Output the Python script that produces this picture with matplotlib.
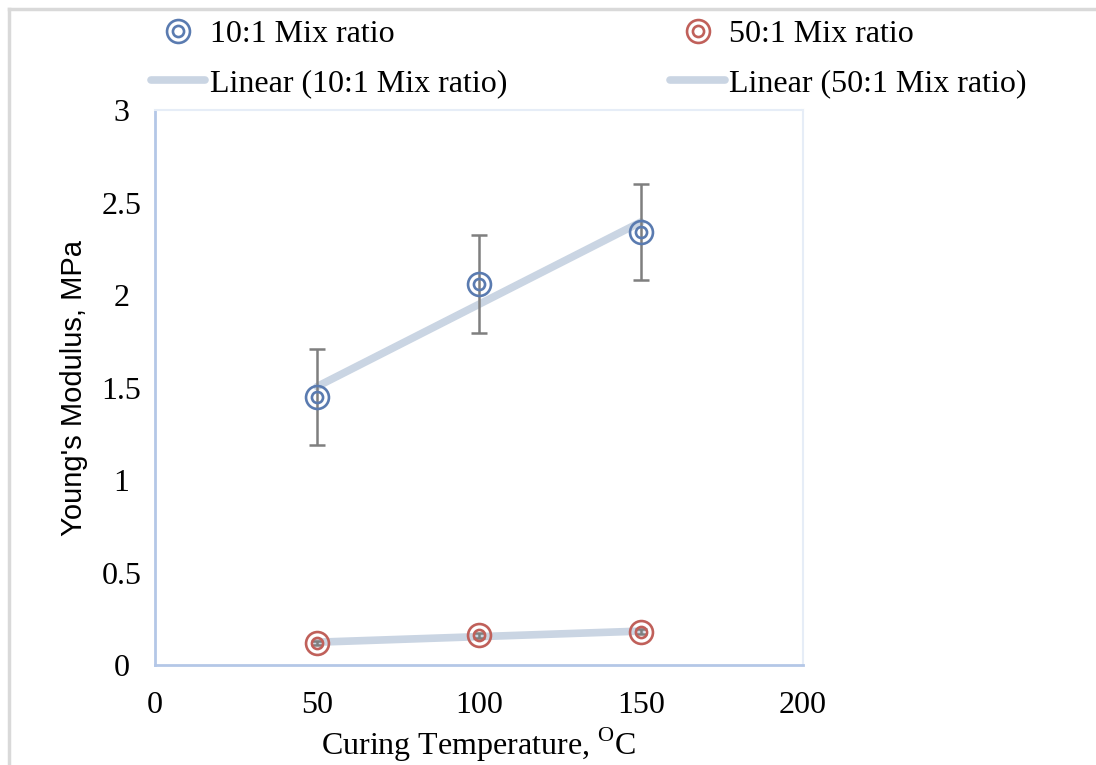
import numpy as np
import matplotlib
matplotlib.use("Agg")
import matplotlib.pyplot as plt
from matplotlib.lines import Line2D
from matplotlib.legend_handler import HandlerTuple

# data
temps = [50, 100, 150]
mod_10 = [1.45, 2.06, 2.34]
err_10 = [0.26, 0.265, 0.26]
mod_50 = [0.12, 0.16, 0.18]
err_50 = [0.012, 0.012, 0.012]

blue = '#5A7BB0'
red = '#C0605A'
trend = '#CAD5E3'
errc = '#7F7F7F'

plt.rcParams['font.family'] = 'Liberation Serif'
plt.rcParams['mathtext.fontset'] = 'custom'
plt.rcParams['mathtext.rm'] = 'Liberation Serif'

fig = plt.figure(figsize=(10.96, 7.65), dpi=100)
ax = fig.add_axes([0.1414, 0.1307, 0.5913, 0.7255])

# outer gray frame (top + left)
fig.add_artist(Line2D([9/1096, 9/1096], [0, 1 - 9/765], transform=fig.transFigure,
                      color='#D9D9D9', lw=2.5))
fig.add_artist(Line2D([9/1096, 1], [1 - 9/765, 1 - 9/765], transform=fig.transFigure,
                      color='#D9D9D9', lw=2.5))

# linear trend lines
x = np.array(temps)
for y in (mod_10, mod_50):
    k, b = np.polyfit(x, y, 1)
    ax.plot(x, k * x + b, color=trend, lw=5.5, solid_capstyle='round', zorder=1)

ax.errorbar(temps, mod_10, yerr=err_10, fmt='none', ecolor=errc, elinewidth=1.8,
            capsize=6, capthick=1.8, zorder=2)
ax.errorbar(temps, mod_50, yerr=err_50, fmt='none', ecolor=errc, elinewidth=1.8,
            capsize=4, capthick=1.8, zorder=2)

def rings(y, c):
    o, = ax.plot(temps, y, 'o', ms=16.5, mfc='none', mec=c, mew=1.9, zorder=3)
    i, = ax.plot(temps, y, 'o', ms=8, mfc='none', mec=c, mew=1.9, zorder=3)
    return o, i

h10 = rings(mod_10, blue)
h50 = rings(mod_50, red)

lin10 = Line2D([], [], color=trend, lw=5.5, solid_capstyle='round')
lin50 = Line2D([], [], color=trend, lw=5.5, solid_capstyle='round')

fig.legend([h10, lin10, h50, lin50],
           ['10:1 Mix ratio', 'Linear (10:1 Mix ratio)', '50:1 Mix ratio', 'Linear (50:1 Mix ratio)'],
           handler_map={tuple: HandlerTuple(ndivide=1)},
           ncol=2, frameon=False, fontsize=23, loc='upper left',
           bbox_to_anchor=(151/1096, 1 - 20/765), handlelength=1.7, handletextpad=0.15,
           columnspacing=5.1, labelspacing=0.6, borderaxespad=0, borderpad=0)

ax.set_xlim(0, 200)
ax.set_ylim(0, 3)
ax.set_xticks([0, 50, 100, 150, 200])
ax.set_yticks([0, 0.5, 1, 1.5, 2, 2.5, 3])
ax.set_yticklabels(['0', '0.5', '1', '1.5', '2', '2.5', '3'])
ax.tick_params(axis='both', length=0, labelsize=23)
ax.tick_params(axis='x', pad=19)
ax.tick_params(axis='y', pad=24)
for lab in ax.get_yticklabels():
    lab.set_horizontalalignment('center')

for s in ('left', 'bottom'):
    ax.spines[s].set_color('#B4C7E7')
    ax.spines[s].set_linewidth(2)
for s in ('top', 'right'):
    ax.spines[s].set_color('#E6EDF7')
    ax.spines[s].set_linewidth(1.5)

ax.set_ylabel("Young's Modulus, MPa", family='Liberation Sans', fontsize=21, labelpad=10)
ax.set_xlabel(r'Curing Temperature, $^{\mathrm{O}}$C', fontsize=23, labelpad=4)

fig.savefig('out.png', dpi=100)
